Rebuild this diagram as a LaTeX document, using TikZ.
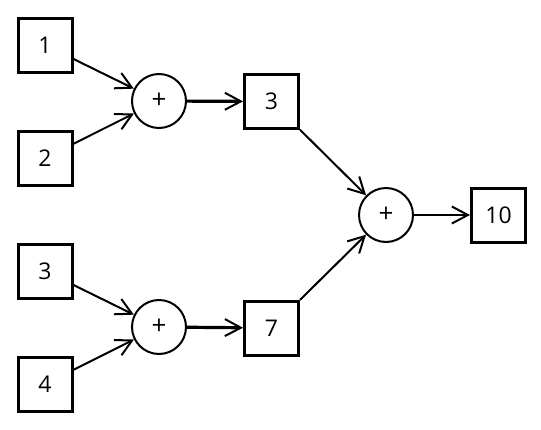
\documentclass[tikz,border=0pt]{standalone}
\usepackage{fontspec}
\setmainfont{Open Sans}
\usetikzlibrary{arrows.meta}

\begin{document}
\begin{tikzpicture}[
    x=0.5pt,y=-0.5pt,
    >={Straight Barb[length=8pt,width=8.5pt,line width=1pt]},
    val/.style={draw,line width=1.5pt,minimum size=27pt,inner sep=0pt,font=\fontsize{11.5}{13}\selectfont},
    op/.style={draw,circle,line width=1pt,minimum size=27pt,inner sep=0pt,font=\fontsize{13}{15}\selectfont},
    link/.style={->,line width=1pt},
    flow/.style={->,line width=1.6pt},
]
\useasboundingbox (0,0) rectangle (541,429);

% inputs
\node[val] (a) at (45,45) {1};
\node[val] (b) at (45,158) {2};
\node[val] (c) at (45,271) {3};
\node[val] (d) at (45,384) {4};

% first sums
\node[op] (s1) at (159,101) {+};
\node[op] (s2) at (159,327) {+};
\node[val] (r1) at (271.5,101.5) {3};
\node[val] (r2) at (271.5,328) {7};

% final sum
\node[op] (s3) at (386,215) {+};
\node[val] (res) at (498.5,215) {10};

\draw[link] (a) -- (s1);
\draw[link] (b) -- (s1);
\draw[link] (c) -- (s2);
\draw[link] (d) -- (s2);
\draw[flow] (s1) -- (r1);
\draw[flow] (s2) -- (r2);
\draw[link] (r1) -- (s3);
\draw[link] (r2) -- (s3);
\draw[link,line width=1.3pt] (s3) -- (res);
\end{tikzpicture}
\end{document}
